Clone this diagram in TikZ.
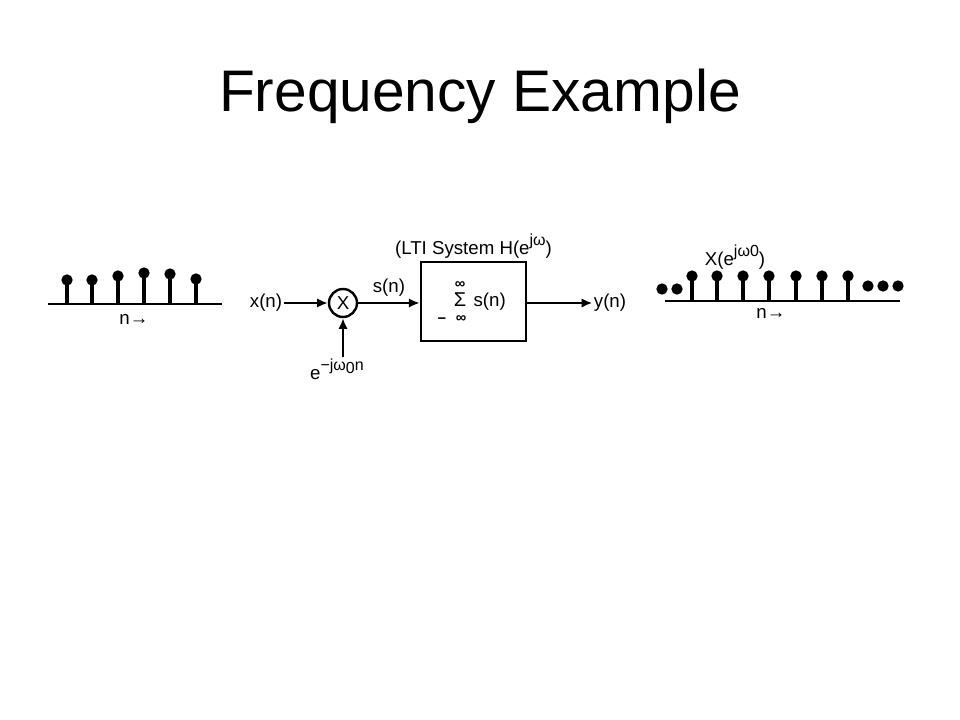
\documentclass[tikz,border=0pt]{standalone}
\usepackage{amsmath}
\usepackage{fontspec}
\setmainfont{Liberation Sans}
\usepackage{tikz}
\usetikzlibrary{arrows}
\usetikzlibrary{arrows.meta}
\usetikzlibrary{positioning}

\begin{document}
\begin{tikzpicture}[x=0.75pt,y=-0.75pt,node distance=2pt,
		dot/.style={circle,fill=black,inner sep=0pt,minimum size=8.5pt},
		stem/.style={line width=2.6pt},
		axis/.style={line width=1.8pt},
		sig/.style={line width=1.8pt,-{Latex[length=8pt,width=7pt]}},
		lbl/.style={font=\fontsize{14}{16}\selectfont,inner sep=1pt},
		tiny/.style={font=\bfseries\fontsize{11}{12}\selectfont,inner sep=0pt,text height=0.55em,text depth=0pt}]
	\useasboundingbox (0,0) rectangle (960,720);
	\node[anchor=base,font=\fontsize{44}{50}\selectfont] (title) at (480,112) {Frequency Example};
	
	% input sequence
	\draw[axis] (48,304) -- (222,304);
	\foreach \x/\h [count=\i] in {67/280,92/280,118/276,144/273,170/274,196/279} {
		\node[dot] (L\i) at (\x,\h) {};
		\draw[stem] (L\i.center) -- (\x,304);
	}
	\node[lbl] (nL) at (134,319) {n→};
	
	% modulator and LTI system
	\node[lbl] (xn) at (266,303) {x(n)};
	\node[circle,draw,line width=1.8pt,minimum size=21pt,inner sep=0pt,lbl] (mul) at (343,303) {X};
	\node[lbl,anchor=north] (osc) at (337,357) {e\raisebox{0.9ex}{\fontsize{12}{14}\selectfont −jω\raisebox{-0.4ex}{0}n}};
	\node[draw,line width=1.8pt,minimum width=79pt,minimum height=59pt] (lti) at (473.5,301.5) {};
	\node[font=\fontsize{15}{16}\selectfont,inner sep=0pt,text height=0.72em,text depth=0pt] (sigma) at (460,302) {Σ};
	\node[tiny] (inftop) at (460,285) {∞};
	\node[tiny] (infbot) at (461,319) {∞};
	\node[tiny] (minus) at (442,320) {−};
	\node[lbl,anchor=west] (sum) at (472,302) {s(n)};
	\node[lbl,above=1pt of lti] (ltiname) {(LTI System H(e\raisebox{0.9ex}{\fontsize{12}{14}\selectfont jω})};
	\node[lbl] (yn) at (610,303) {y(n)};
	\draw[sig] (xn) -- (mul);
	\draw[sig] (osc.north -| mul) -- (mul);
	\draw[sig] (mul) -- (mul -| lti.west) node[midway,above=3pt,lbl] (sn) {s(n)};
	\draw[sig] (lti.east |- yn) -- (yn);
	
	% output sequence
	\draw[axis] (665,301) -- (900,301);
	\foreach \x [count=\i] in {692,717,743,769,796,822,848} {
		\node[dot] (R\i) at (\x,276) {};
		\draw[stem] (R\i.center) -- (\x,301);
	}
	\foreach \x [count=\i] in {662,677} {
		\node[dot] (DL\i) at (\x,289) {};
	}
	\foreach \x [count=\i] in {868,883,898} {
		\node[dot] (DR\i) at (\x,286) {};
	}
	\node[lbl] (Xe) at (735,257) {X(e\raisebox{0.9ex}{\fontsize{12}{14}\selectfont jω0})};
	\node[lbl] (nR) at (771,313) {n→};
\end{tikzpicture}
\end{document}
